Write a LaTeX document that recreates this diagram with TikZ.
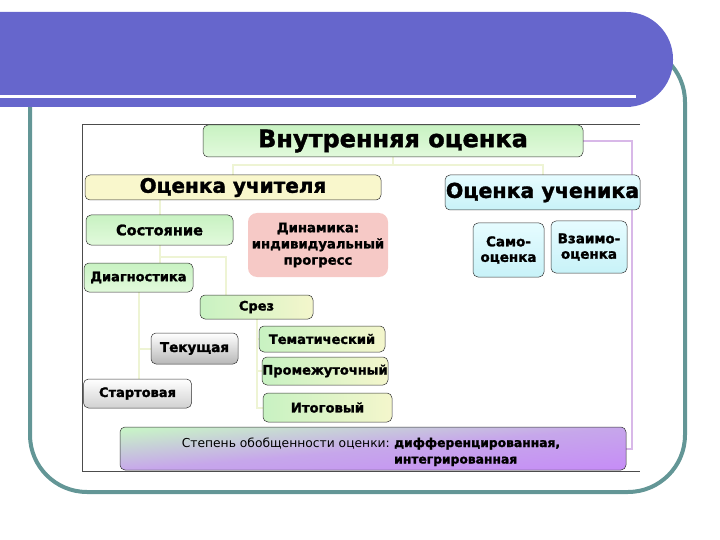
\documentclass[tikz,border=0pt]{standalone}
\usepackage{fontspec}
\setmainfont{DejaVu Sans}[BoldFeatures={FakeBold=1.6}]
\usetikzlibrary{backgrounds}
\definecolor{barblue}{HTML}{6666CC}
\definecolor{tealframe}{HTML}{639696}
\definecolor{lav}{HTML}{D8B8E8}
\definecolor{faint}{HTML}{EEF4D4}
\definecolor{gA}{HTML}{C8F2C2}
\definecolor{gB}{HTML}{E2FADC}
\definecolor{yA}{HTML}{F4F6CC}
\definecolor{yel}{HTML}{F9F7CC}
\definecolor{cyA}{HTML}{E6FCFF}
\definecolor{cyB}{HTML}{C8F2F8}
\definecolor{pink}{HTML}{F6C9C6}
\definecolor{purp}{HTML}{C68EF6}
\definecolor{grn}{HTML}{C8F2C8}
\newcommand{\fsz}[1]{\fontsize{#1}{#1}\selectfont}
\begin{document}
\begin{tikzpicture}[x=1pt,y=-1pt,
  box/.style={draw=black!80, line width=0.5pt, rounded corners=5pt, font=\bfseries, align=center, inner sep=0pt},
  greenbox/.style={box, top color=gA, bottom color=gB},
  gybox/.style={box, left color=gA, right color=yA},
  cybox/.style={box, top color=cyA, bottom color=cyB},
  greybox/.style={box, top color=white, bottom color=black!28},
  conn/.style={draw=faint, line width=2pt},
  lavline/.style={draw=lav, line width=2pt}]
\useasboundingbox (0,0) rectangle (720,540);
% frame
\draw[tealframe, line width=4pt, rounded corners=57pt] (30,45) rectangle (685,492);
\fill[barblue, rounded corners=47pt] (-60,12) rectangle (673,107);
\fill[white] (0,95) rectangle (636,98);
\draw[black!70, line width=0.6pt] (640,124) -- (82,124) -- (82,471) -- (640,471);

% nodes
\node[greenbox, minimum width=380, minimum height=32, font=\bfseries\fsz{24}] (top) at (393,141) {Внутренняя оценка};
\node[box, fill=yel, minimum width=296, minimum height=25, font=\bfseries\fsz{20}] (teacher) at (233,187.5) {Оценка учителя};
\node[cybox, minimum width=195, minimum height=35, font=\bfseries\fsz{20.5}] (student) at (542.5,192.5) {Оценка ученика};
\node[cybox, minimum width=71, minimum height=54, font=\bfseries\fsz{13.5}] (samo) at (508.5,250) {Само-\\[2pt]оценка};
\node[cybox, minimum width=76, minimum height=52, font=\bfseries\fsz{13.5}] (vzaimo) at (589,247) {Взаимо-\\[2pt]оценка};
\node[greenbox, minimum width=147, minimum height=30, font=\bfseries\fsz{14.5}] (sost) at (159.5,230) {Состояние};
\node[box, draw=none, fill=pink, rounded corners=9pt, minimum width=140, minimum height=64, font=\bfseries\fsz{13.2}] (din) at (318,245) {Динамика:\\[3pt]индивидуальный\\[3pt]прогресс};
\node[greenbox, minimum width=109, minimum height=29, font=\bfseries\fsz{13}] (diag) at (138.5,277.5) {Диагностика};
\node[gybox, minimum width=113, minimum height=24, font=\bfseries\fsz{13}] (srez) at (256.5,307) {Срез};
\node[greybox, minimum width=87, minimum height=31, font=\bfseries\fsz{13.5}] (tek) at (194.5,348.5) {Текущая};
\node[greybox, top color=white, bottom color=black!18, minimum width=108, minimum height=29, font=\bfseries\fsz{13}] (start) at (137.5,393.5) {Стартовая};
\node[gybox, minimum width=126, minimum height=26, font=\bfseries\fsz{13}] (tema) at (322,339) {Тематический};
\node[gybox, minimum width=126, minimum height=28, font=\bfseries\fsz{13}] (prom) at (325,371) {Промежуточный};
\node[gybox, minimum width=129, minimum height=29, font=\bfseries\fsz{13.2}] (itog) at (327.5,407.5) {Итоговый};
\node[box, top color=grn, bottom color=purp, middle color=purp!75!grn, shading angle=5, minimum width=506, minimum height=43] (bot) at (373,448.5) {};
\node[anchor=base east, font=\fsz{12.3}, inner sep=0pt] (botl) at (390,447) {Степень обобщенности оценки:};
\node[anchor=base west, font=\bfseries\fsz{12.3}, inner sep=0pt] (botr1) at (394,447) {дифференцированная,};
\node[anchor=base west, font=\bfseries\fsz{12.3}, inner sep=0pt] (botr2) at (394,463.5) {интегрированная};

% connectors behind boxes
\begin{pgfonlayer}{background}
\draw[conn] (top.south) -- ++(0,8);
\draw[conn] (teacher.north) -- ++(0,-10) -| (student.north);
\draw[conn] (sost.north) -- (sost.north |- teacher.south);
\draw[conn] (sost.south) -- ++(0,20);
\draw[conn] (sost.south) ++(0,12) -- ++(66,0) -- ++(0,42);
\draw[conn] (diag.south) -- (diag.south |- start.north);
\draw[conn] (tek.west) -- (tek.west -| diag.south);
\draw[conn] (srez.south) -- (srez.south |- itog.west) -- (itog.west);
\draw[conn] (srez.south |- tema.west) -- (tema.west);
\draw[conn] (srez.south |- prom.west) -- (prom.west);
\draw[lavline] (top.east) -- ++(49,0) |- (bot.east);
\end{pgfonlayer}
\end{tikzpicture}
\end{document}
